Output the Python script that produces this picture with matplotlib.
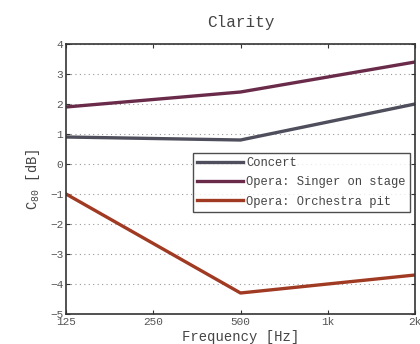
import matplotlib
matplotlib.use("Agg")
import matplotlib.pyplot as plt
import numpy as np

freqs = [125, 500, 2000]
freq_ticks = [125, 250, 500, 1000, 2000]
freq_labels = ["125", "250", "500", "1k", "2k"]
concert = [0.9, 0.8, 2.0]
singer = [1.9, 2.4, 3.4]
orchestra = [-1.0, -4.3, -3.7]
yticks = [-5, -4, -3, -2, -1, 0, 1, 2, 3, 4]

plt.rcParams['font.family'] = ['Liberation Mono', 'DejaVu Sans Mono']
plt.rcParams['mathtext.fontset'] = 'custom'
plt.rcParams['mathtext.rm'] = 'Liberation Mono'
plt.rcParams['mathtext.it'] = 'Liberation Mono'

fig = plt.figure(figsize=(4.2, 3.44), dpi=100)
ax = fig.add_axes([66/420, 30/344, 349/420, 270/344])

ax.plot(freqs, concert, color='#4e4e5c', lw=2.4, label='Concert')
ax.plot(freqs, singer, color='#6a2b4a', lw=2.4, label='Opera: Singer on stage')
ax.plot(freqs, orchestra, color='#a13a22', lw=2.4, label='Opera: Orchestra pit')

ax.set_xscale('log', base=2)
ax.set_xlim(125, 2000)
ax.set_ylim(-5, 4)
ax.set_xticks(freq_ticks)
ax.set_xticklabels(freq_labels)
ax.minorticks_off()
ax.set_yticks(yticks)
ax.set_yticklabels([str(v).replace('-', '\u2212') for v in yticks])
ax.yaxis.grid(True, linestyle=(0, (1, 3)), color='#999999', lw=0.8)
ax.tick_params(direction='in', top=True, right=True, length=3, colors='#333333',
               labelcolor='#555555', labelsize=8, pad=2)
for s in ax.spines.values():
    s.set_color('#333333')
    s.set_linewidth(1.2)

ax.set_title('Clarity', fontsize=11.5, color='#444444', pad=12)
ax.set_xlabel('Frequency [Hz]', fontsize=10, color='#444444', labelpad=2)
ax.set_ylabel(r'C$_{80}$ [dB]', fontsize=10, color='#444444', labelpad=6)

leg = ax.legend(loc='upper right', bbox_to_anchor=(0.985, 0.597), fontsize=8.7,
                frameon=True, fancybox=False, handlelength=3.8, handletextpad=0.25,
                borderpad=0.35, labelspacing=0.6, borderaxespad=0)
leg.get_frame().set_edgecolor('#222222')
leg.get_frame().set_linewidth(1.0)
for t in leg.get_texts():
    t.set_color('#444444')

fig.savefig('out.png', dpi=100)
